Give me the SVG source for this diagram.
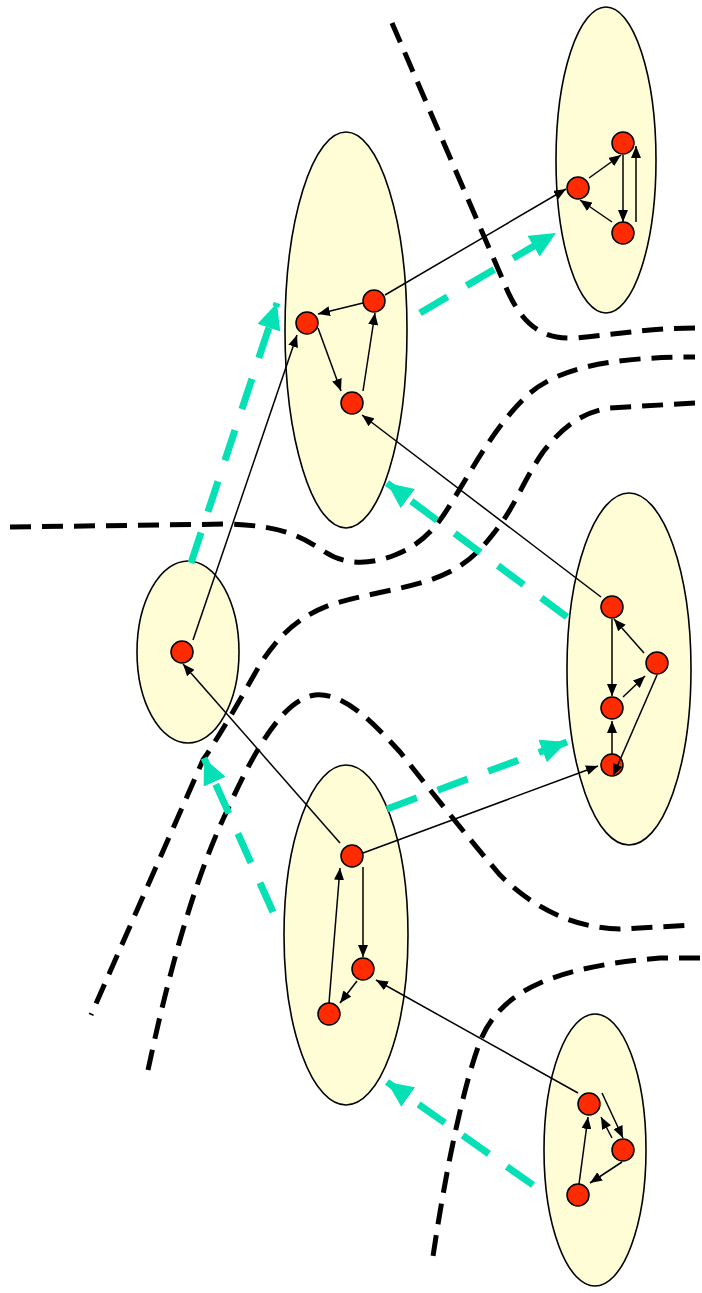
<svg xmlns="http://www.w3.org/2000/svg" width="702" height="1293" viewBox="0 0 702 1293">
<style>
.cl{fill:#fefdd6;stroke:#000;stroke-width:1.6}
.nd{fill:#ff2b00;stroke:#000;stroke-width:1.5}
.bd{fill:none;stroke:#000;stroke-width:5;stroke-dasharray:21 11}
.tl{fill:none;stroke:#06e0b5;stroke-width:7;stroke-dasharray:32 22}
.ed{fill:none;stroke:#000;stroke-width:1.5}
</style>
<defs>
<marker id="ah" markerUnits="userSpaceOnUse" markerWidth="12" markerHeight="10" refX="12" refY="5" orient="auto">
<path d="M0,0 L12,5 L0,10 z" fill="#000"/>
</marker>
<marker id="th" markerUnits="userSpaceOnUse" markerWidth="26" markerHeight="24" refX="26" refY="12" orient="auto">
<path d="M0,0 L26,12 L0,24 z" fill="#06e0b5"/>
</marker>
</defs>
<rect width="702" height="1293" fill="#fff"/>
<g id="cluster1"><ellipse class="cl" cx="606" cy="160" rx="50" ry="153"/></g>
<g id="cluster2"><ellipse class="cl" cx="346" cy="330" rx="61" ry="198"/></g>
<g id="cluster3"><ellipse class="cl" cx="629" cy="669" rx="62" ry="176"/></g>
<g id="cluster4"><ellipse class="cl" cx="346" cy="935" rx="62" ry="170"/></g>
<g id="cluster5"><ellipse class="cl" cx="595" cy="1150" rx="51" ry="136"/></g>
<g id="cluster6"><ellipse class="cl" cx="188" cy="652" rx="51" ry="91"/></g>
<g id="boundaries">
<path class="bd" d="M392,23 L508,292 C522,322 540,340 575,338 C620,334 650,328 695,328"/>
<path class="bd" d="M10,527 L230,524 C280,526 300,535 325,552 C345,565 370,565 395,555 C420,545 435,530 450,505 C475,465 495,425 530,393 C560,368 610,357 695,357"/>
<path class="bd" d="M695,403 L610,408 C580,412 560,430 543,452 C525,478 515,505 500,525 C480,552 465,568 430,580 C400,590 360,595 330,605 C295,618 275,640 258,668 C240,700 220,735 203,760 L91,1015"/>
<path class="bd" d="M148,1070 C165,990 190,890 225,815 C250,760 280,700 315,695 C345,692 375,725 400,752 C430,790 470,840 500,875 C530,905 570,928 620,929 L695,925"/>
<path class="bd" d="M700,958 L660,958 C610,962 570,970 540,983 C510,996 492,1015 482,1037 C470,1065 450,1140 432,1263"/>
</g>
<g id="n-a1"><circle class="nd" cx="623" cy="143" r="11"/></g>
<g id="n-b1"><circle class="nd" cx="578" cy="188" r="11"/></g>
<g id="n-c1"><circle class="nd" cx="623" cy="233" r="11"/></g>
<g id="n-a2"><circle class="nd" cx="307" cy="323" r="11"/></g>
<g id="n-b2"><circle class="nd" cx="374" cy="301" r="11"/></g>
<g id="n-c2"><circle class="nd" cx="352" cy="403" r="11"/></g>
<g id="n-a3"><circle class="nd" cx="612" cy="607" r="11"/></g>
<g id="n-d3"><circle class="nd" cx="657" cy="663" r="11"/></g>
<g id="n-b3"><circle class="nd" cx="612" cy="708" r="11"/></g>
<g id="n-c3"><circle class="nd" cx="612" cy="765" r="11"/></g>
<g id="n-a4"><circle class="nd" cx="352" cy="856" r="11"/></g>
<g id="n-b4"><circle class="nd" cx="363" cy="969" r="11"/></g>
<g id="n-c4"><circle class="nd" cx="329" cy="1014" r="11"/></g>
<g id="n-a5"><circle class="nd" cx="589" cy="1104" r="11"/></g>
<g id="n-b5"><circle class="nd" cx="623" cy="1150" r="11"/></g>
<g id="n-c5"><circle class="nd" cx="578" cy="1195" r="11"/></g>
<g id="n-l"><circle class="nd" cx="182" cy="652" r="11"/></g>
<g id="connectors">
<path class="tl" marker-end="url(#th)" d="M191,563 L277,303"/>
<path class="tl" marker-end="url(#th)" d="M420,313 L556,233"/>
<path class="tl" marker-end="url(#th)" d="M567,617 L387,483"/>
<path class="tl" marker-end="url(#th)" d="M387,809 L567,742"/>
<path class="tl" marker-end="url(#th)" d="M273,912 L204,758"/>
<path class="tl" marker-end="url(#th)" d="M533,1185 L387,1082"/>
<path class="ed" marker-end="url(#ah)" d="M589,178 L621,155"/>
<path class="ed" marker-end="url(#ah)" d="M623,155 L623,222"/>
<path class="ed" marker-end="url(#ah)" d="M636,222 L636,146"/>
<path class="ed" marker-end="url(#ah)" d="M612,222 L580,200"/>
<path class="ed" marker-end="url(#ah)" d="M385,295 L566,189"/>
<path class="ed" marker-end="url(#ah)" d="M363,303 L318,314"/>
<path class="ed" marker-end="url(#ah)" d="M318,328 L341,391"/>
<path class="ed" marker-end="url(#ah)" d="M363,391 L375,313"/>
<path class="ed" marker-end="url(#ah)" d="M193,640 L297,335"/>
<path class="ed" marker-end="url(#ah)" d="M601,597 L362,415"/>
<path class="ed" marker-end="url(#ah)" d="M612,619 L612,696"/>
<path class="ed" marker-end="url(#ah)" d="M644,653 L614,619"/>
<path class="ed" marker-end="url(#ah)" d="M623,697 L645,676"/>
<path class="ed" marker-end="url(#ah)" d="M612,754 L612,721"/>
<path class="ed" marker-end="url(#ah)" d="M657,675 L613,776"/>
<path class="ed" marker-end="url(#ah)" d="M363,853 L598,766"/>
<path class="ed" marker-end="url(#ah)" d="M363,867 L363,957"/>
<path class="ed" marker-end="url(#ah)" d="M357,981 L340,1003"/>
<path class="ed" marker-end="url(#ah)" d="M329,1003 L340,868"/>
<path class="ed" marker-end="url(#ah)" d="M340,843 L183,664"/>
<path class="ed" marker-end="url(#ah)" d="M578,1093 L376,980"/>
<path class="ed" marker-end="url(#ah)" d="M602,1093 L623,1138"/>
<path class="ed" marker-end="url(#ah)" d="M612,1138 L601,1117"/>
<path class="ed" marker-end="url(#ah)" d="M622,1162 L590,1183"/>
<path class="ed" marker-end="url(#ah)" d="M579,1184 L588,1117"/>
</g>
</svg>
